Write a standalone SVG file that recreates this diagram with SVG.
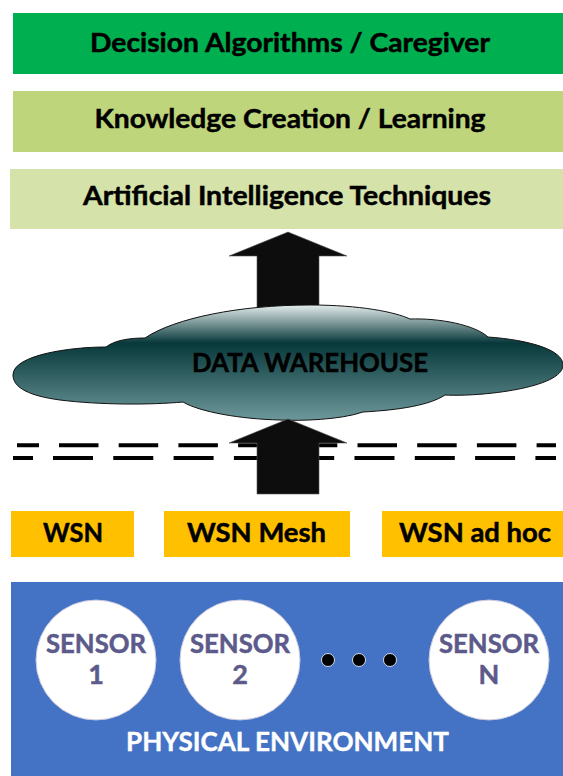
<svg xmlns="http://www.w3.org/2000/svg" width="563" height="776" viewBox="0 0 563 776">
<defs>
<style>
.t{font-family:Lato,"Liberation Sans",sans-serif;font-weight:bold;text-anchor:middle}
.blk{fill:#000;stroke:#000;stroke-width:0.5}
.sen{fill:#5C5A8A;stroke:#5C5A8A;stroke-width:0.5}
.wht{fill:#fff;stroke:#fff;stroke-width:0.4}
.arrow{fill:#0d0d0d;stroke:#555;stroke-width:0.6}
.dash{stroke:#000;stroke-width:4;fill:none}
</style>
<linearGradient id="cloudGrad" x1="0" y1="0" x2="0" y2="1">
<stop offset="0" stop-color="#e4ecec"/>
<stop offset="0.33" stop-color="#07383a"/>
<stop offset="1" stop-color="#6d989b"/>
</linearGradient>
</defs>
<rect width="563" height="776" fill="#fff"/>

<g id="layer-decision">
<rect x="13" y="13" width="550" height="61" fill="#00B050"/>
<text class="t blk" x="290" y="52" font-size="27.5" textLength="400" lengthAdjust="spacingAndGlyphs">Decision Algorithms / Caregiver</text>
</g>
<g id="layer-knowledge">
<rect x="13" y="91" width="550" height="61" fill="#BFD57C"/>
<text class="t blk" x="290" y="128" font-size="27.5" textLength="391" lengthAdjust="spacingAndGlyphs">Knowledge Creation / Learning</text>
</g>
<g id="layer-ai">
<rect x="10" y="169" width="553" height="60" fill="#D5E2A9"/>
<text class="t blk" x="287" y="205" font-size="27.5" textLength="408" lengthAdjust="spacingAndGlyphs">Artificial Intelligence Techniques</text>
</g>

<g id="connectors">
<polygon class="arrow" points="288,232 347,256 319,256 319,312 257,312 257,256 229,256"/>
</g>

<g id="data-warehouse">
<path d="M13 375 C13 355 70 347 106 347 C115 340 130 338 145 338 C175 318 240 305 310 305 C360 305 395 312 410 319 C440 318 475 325 488 337 C530 340 563 350 563 365 C563 388 480 397 445 395 C430 405 400 410 363 412 C340 420 300 421 280 420 C240 419 200 412 183 402 C150 405 100 405 60 400 C30 396 13 388 13 375 Z" fill="url(#cloudGrad)" stroke="#111" stroke-width="1"/>
<text class="t blk" x="310" y="372" font-size="26.5" textLength="236" lengthAdjust="spacingAndGlyphs">DATA WAREHOUSE</text>
</g>

<g id="network-boundary">
<path class="dash" d="M17 445.3H39 M59 445.3H98.5 M118.7 445.3H158.2 M178.4 445.3H217.9 M238.1 445.3H277.6 M297.8 445.3H337.3 M357.5 445.3H397 M417.2 445.3H456.7 M476.9 445.3H516.4 M536.6 445.3H556"/>
<path class="dash" d="M13 458H33 M53 458H93 M113.3 458H153.3 M173.6 458H213.6 M233.9 458H273.9 M294.2 458H334.2 M354.5 458H394.5 M414.8 458H454.8 M475.1 458H515.1 M535.4 458H556"/>
</g>

<g id="connectors-2">
<polygon class="arrow" points="288,419 347,443 319,443 319,494 257,494 257,443 229,443"/>
</g>

<g id="wsn">
<rect x="11" y="511" width="123" height="46" fill="#FFC000"/>
<text class="t blk" x="73" y="542" font-size="27.5" textLength="60" lengthAdjust="spacingAndGlyphs">WSN</text>
</g>
<g id="wsn-mesh">
<rect x="164" y="511" width="186" height="46" fill="#FFC000"/>
<text class="t blk" x="256.5" y="542" font-size="27.5" textLength="139" lengthAdjust="spacingAndGlyphs">WSN Mesh</text>
</g>
<g id="wsn-adhoc">
<rect x="382" y="511" width="181" height="46" fill="#FFC000"/>
<text class="t blk" x="475" y="542" font-size="27.5" textLength="152" lengthAdjust="spacingAndGlyphs">WSN ad hoc</text>
</g>

<g id="physical-environment">
<rect x="11" y="582" width="552" height="194" fill="#4472C4"/>
<text class="t wht" x="287.5" y="751" font-size="27" textLength="323" lengthAdjust="spacingAndGlyphs">PHYSICAL ENVIRONMENT</text>
</g>
<g id="sensor-1">
<circle cx="96" cy="660" r="60" fill="#fff" stroke="#c9c9dc" stroke-width="1"/>
<text class="t sen" x="96" y="653" font-size="26" textLength="100" lengthAdjust="spacingAndGlyphs">SENSOR</text>
<text class="t sen" x="96" y="684" font-size="27">1</text>
</g>
<g id="sensor-2">
<circle cx="240" cy="660" r="60" fill="#fff" stroke="#c9c9dc" stroke-width="1"/>
<text class="t sen" x="240" y="653" font-size="26" textLength="100" lengthAdjust="spacingAndGlyphs">SENSOR</text>
<text class="t sen" x="240" y="684" font-size="27">2</text>
</g>
<g id="ellipsis">
<circle cx="328" cy="660" r="6.5" fill="#000" stroke="#fff" stroke-width="0.8"/>
<circle cx="359" cy="660" r="6.5" fill="#000" stroke="#fff" stroke-width="0.8"/>
<circle cx="390" cy="660" r="6.5" fill="#000" stroke="#fff" stroke-width="0.8"/>
</g>
<g id="sensor-n">
<circle cx="489" cy="660" r="60" fill="#fff" stroke="#c9c9dc" stroke-width="1"/>
<text class="t sen" x="489" y="653" font-size="26" textLength="100" lengthAdjust="spacingAndGlyphs">SENSOR</text>
<text class="t sen" x="489" y="684" font-size="27">N</text>
</g>
</svg>
